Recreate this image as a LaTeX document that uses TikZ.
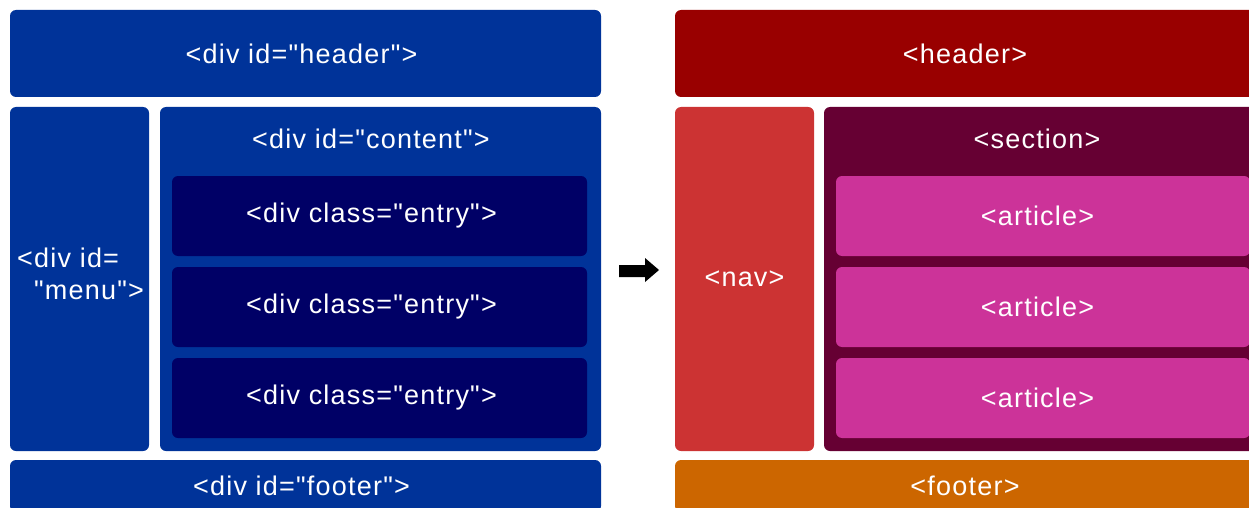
\documentclass[tikz,border=0pt]{standalone}
\usepackage{fontspec}
\setmainfont{Liberation Sans}[LetterSpace=4.5, Ligatures=TeXOff]

\definecolor{divblue}{HTML}{003399}
\definecolor{entryblue}{HTML}{000066}
\definecolor{hdrred}{HTML}{990000}
\definecolor{navred}{HTML}{CC3333}
\definecolor{secwine}{HTML}{660033}
\definecolor{artpink}{HTML}{CC3399}
\definecolor{ftrorange}{HTML}{CC6600}

\begin{document}
\begin{tikzpicture}[x=1pt, y=-1pt,
   blk/.style={rounded corners=6pt, inner sep=0pt, text=white,
      font=\fontsize{27}{32}\selectfont},
   lbl/.style={inner sep=0pt, text=white, font=\fontsize{27}{32}\selectfont}]
\useasboundingbox (0,0) rectangle (1249,508);
\clip (0,0) rectangle (1249,508);

% old layout with divs
\begin{scope}
   \node[blk, fill=divblue, minimum width=591pt, minimum height=87pt] (divheader) at (305.5,53.5) {<div id="header">\hspace*{8pt}};
   \node[blk, fill=divblue, minimum width=139pt, minimum height=344pt] (divmenu) at (79.5,279) {};
   \node[lbl, align=left, anchor=west] (menulbl) at (17,274) {<div id=\\\hspace*{17pt}"menu">};
   \node[blk, fill=divblue, minimum width=441pt, minimum height=344pt] (divcontent) at (380.5,279) {};
   \node[lbl] (contentlbl) at ([yshift=-32pt]divcontent.north -| 371,0) {<div id="content">};
   \node[blk, fill=divblue, minimum width=591pt, minimum height=52pt] (divfooter) at (305.5,486) {<div id="footer">\hspace*{8pt}};
\end{scope}

% html5 layout
\begin{scope}
   \node[blk, fill=hdrred, minimum width=580pt, minimum height=87pt] (header) at (965,53.5) {<header>};
   \node[blk, fill=navred, minimum width=139pt, minimum height=344pt] (nav) at (744.5,279) {<nav>};
   \node[blk, fill=secwine, minimum width=431pt, minimum height=344pt] (section) at (1039.5,279) {};
   \node[lbl] (sectionlbl) at ([yshift=-32pt]section.north -| 1037,0) {<section>};
   \node[blk, fill=ftrorange, minimum width=580pt, minimum height=52pt] (footer) at (965,486) {<footer>};
\end{scope}

\foreach \y [count=\i] in {216,307,398} {
   \node[blk, fill=entryblue, minimum width=415pt, minimum height=80pt] (entry\i) at (379.5,\y) {<div class="entry">\hspace*{16pt}};
   \node[blk, fill=artpink, minimum width=414pt, minimum height=80pt] (article\i) at (1043,\y) {<article>\hspace*{11pt}};
};

% arrow between the two
\fill (619,265) -- (645,265) -- (645,258) -- (659,270) -- (645,282) -- (645,277) -- (619,277) -- cycle;

\end{tikzpicture}
\end{document}
